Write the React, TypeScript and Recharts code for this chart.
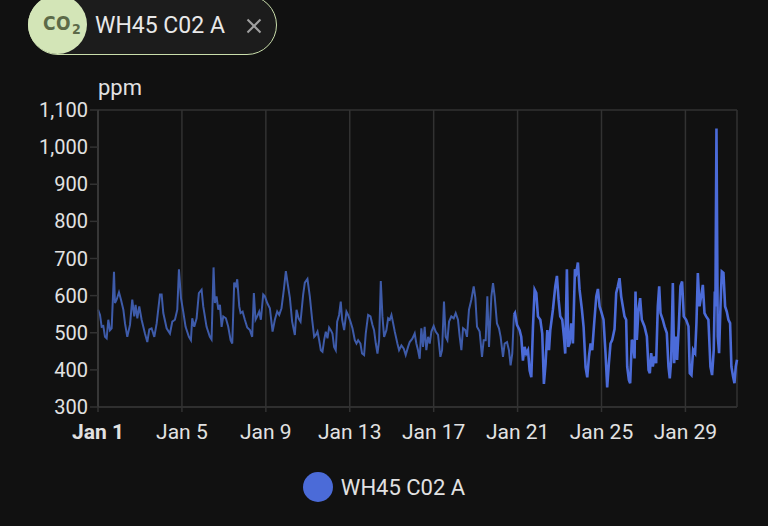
import { LineChart, Line, XAxis, YAxis, CartesianGrid, Legend } from "recharts"

// hours since Jan 1 00:00
const hours = [
  // Jan 1 - Jan 5
  0, 2.3, 4.2, 6.1, 8.0, 9.9, 11.8, 13.7, 15.6, 18.3,
  19.4, 21.3, 24.0, 26.3, 29.0, 30.9, 33.5, 36.6, 39.2, 41.5,
  43.0, 45.0, 47.2, 49.9, 53.7, 56.4, 58.7, 61.3, 64.4, 67.1,
  70.9, 72.8, 74.7, 78.5, 82.3, 85.0, 88.0, 90.7, 92.6, 94.9,
  97.5, 100.2, 104.0, 106.3, 107.8, 110.1, 112.8, 115.4, 118.5,
  // Jan 6 - Jan 10
  120.4, 124.2, 128.0, 129.9, 132.2, 133.7, 135.6, 137.6, 139.5, 141.4,
  143.3, 146.3, 149.0, 151.7, 153.6, 155.8, 157.7, 159.3, 161.6, 163.1,
  165.4, 168.0, 170.7, 173.8, 176.4, 178.3, 180.2, 182.1, 184.4, 186.3,
  189.0, 190.9, 193.6, 196.6, 199.7, 202.3, 205.0, 207.3, 209.9, 212.6,
  214.9, 216.8, 219.5, 222.1, 225.2, 227.1, 229.4, 231.7, 234.7,
  // Jan 10 - Jan 15
  236.6, 239.6, 242.3, 245.0, 247.3, 249.2, 251.1, 253.0, 254.9, 256.8,
  258.7, 260.6, 262.5, 264.4, 266.3, 268.2, 270.1, 272.0, 273.6, 275.8,
  277.7, 279.3, 281.6, 284.2, 286.1, 288.8, 291.1, 293.8, 295.7, 297.6,
  300.2, 302.1, 304.4, 306.3, 309.0, 311.7, 314.0, 315.8, 317.8, 319.7,
  321.6, 323.5, 325.4, 327.3, 329.9, 331.9, 333.8, 335.7, 337.6, 339.5,
  342.5, 344.4, 347.1, 349.8, 352.0, 354.7,
  // Jan 15 - Jan 20
  356.6, 359.6, 362.3, 364.2, 366.1, 368.0, 369.9, 371.8, 373.7, 375.6,
  377.6, 379.5, 381.4, 384.0, 386.3, 389.0, 391.7, 393.6, 395.8, 397.7,
  399.7, 401.6, 404.2, 406.9, 409.2, 411.8, 413.8, 415.7, 417.6, 420.2,
  422.1, 424.4, 427.1, 429.8, 431.7, 433.6, 436.6, 439.3, 441.2, 443.5,
  445.4, 447.3, 450.0, 451.9, 453.8, 456.4, 458.7, 460.6, 463.3, 465.2,
  467.9, 470.1, 472.0, 473.9, 475.8,
  // Jan 20 - Jan 25
  477.0, 479.3, 482.3, 484.2, 486.1, 488.0, 489.9, 491.9, 493.8, 495.7,
  497.6, 499.5, 501.4, 503.3, 506.0, 508.2, 510.1, 512.0, 514.0, 515.9,
  517.4, 520.4, 523.1, 525.0, 526.9, 528.8, 531.1, 533.0, 534.5, 536.4,
  538.0, 539.5, 541.4, 543.3, 545.6, 547.1, 549.0, 550.9, 553.6, 555.5,
  557.8, 559.7, 561.6, 563.5, 565.4, 567.3, 570.0, 571.9, 573.8, 575.7,
  578.3, 580.6, 582.5, 584.4, 586.3, 588.2, 590.9,
  // Jan 25 - Jan 31
  592.8, 594.7, 596.6, 598.5, 600.4, 602.3, 604.2, 605.4, 607.3, 608.8,
  610.7, 612.2, 613.8, 614.9, 616.4, 618.3, 620.2, 622.1, 625.2, 627.9,
  629.8, 631.3, 632.8, 634.7, 636.6, 638.5, 640.4, 642.0, 643.5, 646.1,
  648.1, 650.7, 652.6, 654.1, 655.7, 657.6, 659.1, 661.0, 662.5, 664.4,
  666.3, 668.2, 670.1, 672.8, 675.5, 677.0, 678.9, 680.8, 683.1, 684.6,
  686.2, 688.1, 690.0, 691.9, 693.8, 695.7, 698.3, 700.6, 702.5, 704.4,
  705.6, 706.3, 707.5, 709.0, 710.5, 712.1, 713.6, 715.5, 717.4, 719.3,
  721.2, 723.1, 724.6, 726.5, 728.1, 729.6, 731.0,
]

const ppm = [
  // Jan 1 - Jan 5
  562, 548, 516, 518, 489, 485, 535, 507, 512, 664,
  580, 589, 609, 589, 562, 525, 489, 521, 589, 544,
  575, 539, 571, 535, 498, 475, 509, 512, 489, 525,
  603, 603, 553, 512, 498, 530, 535, 562, 671, 594,
  557, 516, 489, 480, 539, 516, 539, 607, 616,
  // Jan 6 - Jan 10
  571, 516, 489, 482, 676, 580, 598, 562, 575, 516,
  544, 539, 516, 480, 471, 635, 626, 644, 571, 553,
  557, 535, 514, 507, 489, 607, 535, 544, 557, 535,
  603, 598, 580, 566, 503, 535, 557, 548, 566, 616,
  666, 635, 594, 530, 494, 562, 539, 530, 603,
  // Jan 10 - Jan 15
  635, 645, 598, 535, 489, 494, 503, 480, 453, 449,
  480, 503, 485, 514, 507, 498, 462, 453, 530, 548,
  584, 535, 507, 557, 548, 530, 512, 480, 471, 480,
  471, 444, 440, 498, 548, 544, 521, 507, 471, 444,
  480, 639, 544, 489, 507, 539, 535, 548, 526, 503,
  471, 453, 466, 457, 440, 462,
  // Jan 15 - Jan 20
  475, 484, 498, 471, 453, 430, 512, 462, 516, 453,
  489, 471, 503, 518, 503, 494, 435, 453, 584, 489,
  480, 530, 544, 539, 553, 535, 489, 453, 512, 507,
  489, 562, 589, 625, 594, 516, 503, 435, 480, 480,
  598, 462, 598, 634, 598, 525, 512, 489, 435, 471,
  475, 453, 412, 444, 548,
  // Jan 20 - Jan 25
  553, 521, 507, 489, 425, 462, 444, 453, 398, 380,
  516, 616, 607, 544, 535, 498, 362, 416, 507, 453,
  507, 562, 625, 653, 589, 544, 535, 489, 444, 671,
  462, 471, 525, 471, 671, 662, 689, 616, 562, 516,
  407, 380, 435, 471, 453, 516, 598, 618, 571, 557,
  535, 444, 353, 416, 471, 480, 510,
  // Jan 25 - Jan 31
  607, 625, 647, 598, 571, 544, 535, 409, 373, 364,
  481, 472, 431, 611, 481, 562, 593, 535, 517, 490,
  400, 391, 445, 409, 436, 418, 571, 625, 553, 535,
  517, 499, 409, 377, 427, 634, 418, 490, 427, 517,
  625, 638, 544, 535, 517, 391, 386, 454, 445, 526,
  661, 571, 598, 629, 553, 544, 535, 409, 386, 454,
  611, 571, 1050, 490, 445, 571, 665, 661, 571, 557,
  535, 526, 409, 382, 364, 409, 427,
]

// older part comes from hourly statistics (drawn dimmer), newer part is live history
const statsEndHour = 475.8
const endHour = 731

const xTicks = [0, 96, 192, 288, 384, 480, 576, 672]
const xTickLabels = ["Jan 1", "Jan 5", "Jan 9", "Jan 13", "Jan 17", "Jan 21", "Jan 25", "Jan 29"]
const yTicks = [300, 400, 500, 600, 700, 800, 900, 1000, 1100]

const seriesName = "WH45 C02 A"
const unit = "ppm"

const statsColor = "#3e5ba9"
const liveColor = "#4b6bd8"
const gridColor = "#323232"
const textColor = "#e2e2e2"
const font = "Roboto, sans-serif"

const data = hours.map((t, i) => ({
  t,
  stats: t <= statsEndHour ? ppm[i] : null,
  live: t >= statsEndHour ? ppm[i] : null,
}))

function DateTick({ x, y, payload }: any) {
  const i = xTicks.indexOf(payload.value)
  return (
    <text
      x={x}
      y={y}
      dy={15}
      textAnchor="middle"
      fill={textColor}
      fontSize={21}
      fontFamily={font}
      fontWeight={i === 0 ? 700 : 400}
    >
      {xTickLabels[i]}
    </text>
  )
}

function SeriesLegend() {
  return (
    <div style={{ display: "flex", justifyContent: "center", alignItems: "center", gap: 8, height: 30 }}>
      <span style={{ width: 30, height: 30, borderRadius: "50%", background: liveColor, display: "inline-block" }} />
      <span style={{ fontSize: 22, color: textColor, fontFamily: font }}>{seriesName}</span>
    </div>
  )
}

export default function App() {
  return (
    <div
      style={{
        position: "fixed",
        top: 0,
        left: 0,
        width: 768,
        height: 526,
        background: "#111111",
        overflow: "hidden",
        fontFamily: font,
      }}
    >
      {/* entity chip */}
      <div
        style={{
          position: "absolute",
          left: 28,
          top: -5,
          width: 249,
          height: 60,
          borderRadius: 30,
          border: "1.5px solid #c9ddab",
          background: "#1c1c1c",
          boxSizing: "border-box",
        }}
      />
      <div
        style={{
          position: "absolute",
          left: 28,
          top: -5,
          width: 59,
          height: 59,
          borderRadius: "50%",
          background: "#d3e5b7",
        }}
      />
      <div
        style={{
          position: "absolute",
          left: 43,
          top: 14,
          color: "#5c6a48",
          fontWeight: 700,
          fontSize: 19,
          lineHeight: "19px",
          fontFamily: "'Liberation Sans Narrow', 'DejaVu Sans Condensed', sans-serif",
          letterSpacing: 0.5,
        }}
      >
        CO
        <span style={{ fontSize: 14, position: "relative", top: 4, marginLeft: 1 }}>2</span>
      </div>
      <div style={{ position: "absolute", left: 95, top: 12, fontSize: 23, color: "#e8e8e8" }}>{seriesName}</div>
      <svg style={{ position: "absolute", left: 246, top: 18 }} width={16} height={16}>
        <line x1={1.5} y1={1.5} x2={14.5} y2={14.5} stroke="#a0a0a0" strokeWidth={2} />
        <line x1={14.5} y1={1.5} x2={1.5} y2={14.5} stroke="#a0a0a0" strokeWidth={2} />
      </svg>

      <div style={{ position: "absolute", left: 98, top: 75, fontSize: 22, color: textColor }}>{unit}</div>

      <div style={{ position: "absolute", left: 0, top: 0 }}>
        <LineChart width={768} height={526} data={data} margin={{ top: 110, right: 31, bottom: 79, left: 8 }}>
          <CartesianGrid stroke={gridColor} strokeWidth={1.5} />
          <XAxis
            dataKey="t"
            type="number"
            domain={[0, endHour]}
            ticks={xTicks}
            interval={0}
            height={40}
            tick={<DateTick />}
            tickSize={5}
            tickMargin={12}
            stroke={gridColor}
            tickLine={{ stroke: gridColor, strokeWidth: 1.5 }}
            axisLine={{ stroke: gridColor, strokeWidth: 1.5 }}
          />
          <YAxis
            yAxisId="l"
            domain={[300, 1100]}
            ticks={yTicks}
            interval={0}
            width={90}
            tickSize={8}
            tickMargin={2}
            tickFormatter={(v: number) => v.toLocaleString("en-US")}
            tick={{ fill: textColor, fontSize: 20, fontFamily: font }}
            tickLine={{ stroke: gridColor, strokeWidth: 1.5 }}
            axisLine={{ stroke: "#3c3c3c", strokeWidth: 1.5 }}
          />
          <YAxis
            yAxisId="r"
            orientation="right"
            domain={[300, 1100]}
            width={0}
            tick={false}
            tickLine={false}
            axisLine={{ stroke: gridColor, strokeWidth: 1.5 }}
          />
          <Legend
            verticalAlign="middle"
            align="center"
            layout="horizontal"
            wrapperStyle={{ top: 472, left: 0, width: 768 }}
            content={<SeriesLegend />}
          />
          <Line
            yAxisId="l"
            dataKey="stats"
            type="linear"
            stroke={statsColor}
            strokeWidth={2}
            dot={false}
            legendType="none"
            isAnimationActive={false}
          />
          <Line
            yAxisId="l"
            dataKey="live"
            name={seriesName}
            type="linear"
            stroke={liveColor}
            strokeWidth={2.6}
            dot={false}
            isAnimationActive={false}
          />
        </LineChart>
      </div>
    </div>
  )
}
